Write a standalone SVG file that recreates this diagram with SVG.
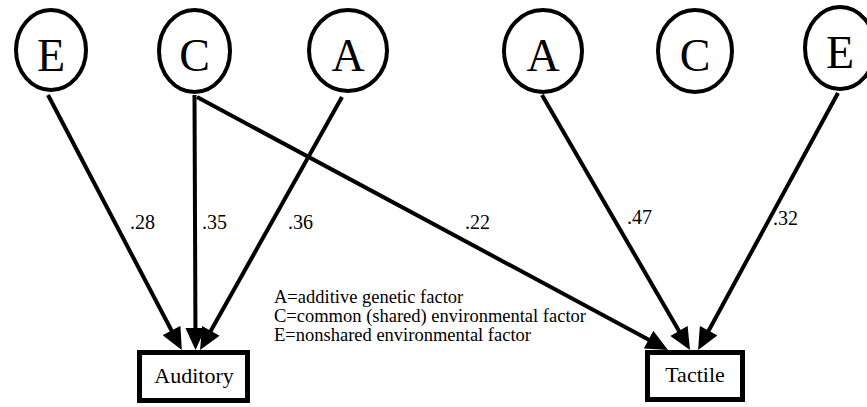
<svg xmlns="http://www.w3.org/2000/svg" width="867" height="407" viewBox="0 0 867 407">
  <style>
    .lat { fill: #fff; stroke: #000; stroke-width: 4; }
    .box { fill: #fff; stroke: #000; stroke-width: 5; }
    .big { font-family: "Liberation Serif", "Times New Roman", serif; font-size: 46px; text-anchor: middle; fill: #000; }
    .obs { font-family: "Liberation Serif", "Times New Roman", serif; font-size: 22px; text-anchor: middle; fill: #000; }
    .lbl { font-family: "Liberation Serif", "Times New Roman", serif; font-size: 20px; fill: #000; }
    .leg { font-family: "Liberation Serif", "Times New Roman", serif; font-size: 18.5px; fill: #000; }
    .edge { stroke: #000; stroke-width: 4; fill: none; marker-end: url(#ah); }
  </style>
  <defs>
    <marker id="ah" markerUnits="userSpaceOnUse" markerWidth="23" markerHeight="20" refX="16" refY="10" orient="auto" viewBox="0 0 22 20">
      <path d="M0,0 L22,10 L0,20 z" fill="#000"/>
    </marker>
  </defs>
  <rect width="867" height="407" fill="#fff"/>

  <g id="connectors">
    <line class="edge" x1="48" y1="95" x2="179" y2="344.7"/>
    <line class="edge" x1="194.5" y1="95" x2="195.5" y2="344"/>
    <line class="edge" x1="342" y1="97" x2="203" y2="344.8"/>
    <line class="edge" x1="197" y1="97" x2="662.7" y2="347.2"/>
    <line class="edge" x1="542" y1="95" x2="687" y2="344.8"/>
    <line class="edge" x1="838" y1="93" x2="701" y2="344.7"/>
  </g>

  <g id="edge-labels">
    <text class="lbl" x="130" y="229">.28</text>
    <text class="lbl" x="202" y="229">.35</text>
    <text class="lbl" x="288" y="229">.36</text>
    <text class="lbl" x="465" y="229">.22</text>
    <text class="lbl" x="627" y="224">.47</text>
    <text class="lbl" x="773" y="225">.32</text>
  </g>

  <g id="E1">
    <ellipse class="lat" cx="51" cy="50" rx="35" ry="40"/>
    <text class="big" x="51" y="71">E</text>
  </g>
  <g id="C1">
    <ellipse class="lat" cx="194.5" cy="51" rx="35.5" ry="41"/>
    <text class="big" x="194.5" y="71">C</text>
  </g>
  <g id="A1">
    <ellipse class="lat" cx="348" cy="50.5" rx="39" ry="40.5"/>
    <text class="big" x="348" y="71">A</text>
  </g>
  <g id="A2">
    <ellipse class="lat" cx="543" cy="51" rx="39" ry="41"/>
    <text class="big" x="543" y="71">A</text>
  </g>
  <g id="C2">
    <ellipse class="lat" cx="695" cy="51" rx="37" ry="41"/>
    <text class="big" x="695" y="71">C</text>
  </g>
  <g id="E2">
    <ellipse class="lat" cx="840" cy="48" rx="35" ry="41"/>
    <text class="big" x="840" y="68">E</text>
  </g>

  <g id="Auditory">
    <rect class="box" x="139.5" y="352.5" width="108" height="48"/>
    <text class="obs" x="194" y="383">Auditory</text>
  </g>
  <g id="Tactile">
    <rect class="box" x="647.5" y="352.5" width="95" height="47"/>
    <text class="obs" x="695" y="382">Tactile</text>
  </g>

  <g id="legend">
    <text class="leg" x="274" y="303">A=additive genetic factor</text>
    <text class="leg" x="274" y="322">C=common (shared) environmental factor</text>
    <text class="leg" x="274" y="341">E=nonshared environmental factor</text>
  </g>
</svg>
